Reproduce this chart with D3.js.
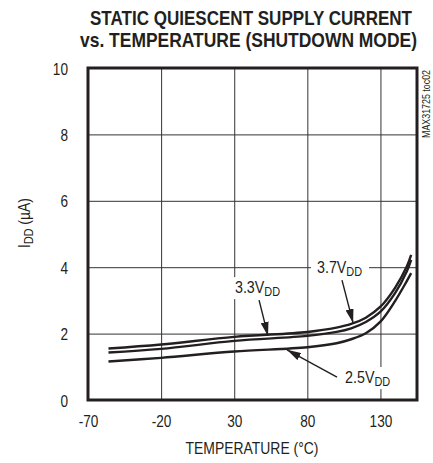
<!DOCTYPE html>
<html>
<head>
<meta charset="utf-8">
<script src="https://cdn.jsdelivr.net/npm/d3@7"></script>
<style>
  body { margin: 0; background: #fff; }
  text { font-family: "Liberation Sans", Arial, sans-serif; fill: #231f20; }
</style>
</head>
<body>
<div id="graphe"></div>
<script>
// donnees (temperature en °C, courant en µA)
var temperatures = [-56, -20, 30, 80, 100, 110, 120, 130, 140, 148, 151];
var courant37 = [1.55, 1.67, 1.90, 2.05, 2.18, 2.29, 2.48, 2.81, 3.38, 4.02, 4.37];
var courant33 = [1.43, 1.54, 1.78, 1.93, 2.05, 2.16, 2.35, 2.66, 3.22, 3.87, 4.22];
var courant25 = [1.16, 1.27, 1.46, 1.59, 1.71, 1.83, 2.01, 2.36, 2.98, 3.58, 3.82];

var ticksX = [-70, -20, 30, 80, 130];
var ticksY = [0, 2, 4, 6, 8, 10];

// etiquettes : position du texte et de la fleche en unites du graphe
var etiquettes = [
  { nom: "3.7", tx: 86.6, ty: 3.83, x1: 103.7, y1: 3.61, x2: 111.3, y2: 2.32 },
  { nom: "3.3", tx: 30.5, ty: 3.22, x1: 47, y1: 3.01, x2: 53.1, y2: 1.93 },
  { nom: "2.5", tx: 105.8, ty: 0.51, x1: 100.3, y1: 0.69, x2: 66.1, y2: 1.51 }
];

var largeur = 433, hauteur = 463;
var gauche = 88, droite = 417, haut = 68, bas = 400;

// resserre un texte (police etroite absente)
function resserre(sel, f) {
  sel.each(function () {
    var l = this.getComputedTextLength();
    d3.select(this).attr("textLength", l * f).attr("lengthAdjust", "spacingAndGlyphs");
  });
}

var svg = d3.select("#graphe").append("svg").attr("width", largeur).attr("height", hauteur);

var x = d3.scaleLinear().domain([-70, 155]).range([gauche, droite]);
var y = d3.scaleLinear().domain([0, 10]).range([bas, haut]);

// titre
svg.append("text").attr("x", 251).attr("y", 25).attr("text-anchor", "middle")
   .attr("textLength", 322).attr("lengthAdjust", "spacingAndGlyphs")
   .style("font-size", "21px").style("font-weight", "bold")
   .text("STATIC QUIESCENT SUPPLY CURRENT");
svg.append("text").attr("x", 248.5).attr("y", 47).attr("text-anchor", "middle")
   .attr("textLength", 337).attr("lengthAdjust", "spacingAndGlyphs")
   .style("font-size", "21px").style("font-weight", "bold")
   .text("vs. TEMPERATURE (SHUTDOWN MODE)");

// grille
var axeX = svg.append("g").attr("transform", "translate(0," + bas + ")")
   .call(d3.axisBottom(x).tickValues(ticksX).tickFormat(function (d) { return String(d); })
     .tickSize(-(bas - haut)).tickSizeOuter(0).tickPadding(12));
var axeY = svg.append("g").attr("transform", "translate(" + gauche + ",0)")
   .call(d3.axisLeft(y).tickValues(ticksY).tickSize(-(droite - gauche)).tickSizeOuter(0).tickPadding(20));
[axeX, axeY].forEach(function (a) {
  a.select(".domain").remove();
  a.selectAll(".tick line").style("stroke", "#333").style("stroke-width", 1);
  a.selectAll(".tick text").style("font-size", "17px").style("font-family", null).attr("fill", null);
  resserre(a.selectAll(".tick text"), 0.8);
});
axeX.selectAll(".tick text").attr("dy", "0.71em").attr("y", 15);
axeY.selectAll(".tick text").attr("dy", "0.36em");

// fonds blancs des etiquettes (cachent la grille)
etiquettes.forEach(function (e) {
  svg.append("rect").attr("x", x(e.tx) - 6).attr("y", y(e.ty) - 16)
     .attr("width", 58).attr("height", 22).style("fill", "#fff");
});

// courbes
var ligne = d3.line().x(function (d) { return x(d[0]); }).y(function (d) { return y(d[1]); })
   .curve(d3.curveCatmullRom.alpha(0.5));
[courant37, courant33, courant25].forEach(function (serie) {
  svg.append("path")
     .attr("d", ligne(temperatures.map(function (t, i) { return [t, serie[i]]; })))
     .style("fill", "none").style("stroke", "#231f20").style("stroke-width", 2.4);
});

// fleches
svg.append("defs").append("marker").attr("id", "pointe")
   .attr("viewBox", "0 0 14 8").attr("refX", 14).attr("refY", 4)
   .attr("markerWidth", 14).attr("markerHeight", 8).attr("markerUnits", "userSpaceOnUse")
   .attr("orient", "auto")
   .append("path").attr("d", "M0,0 L14,4 L0,8 Z").style("fill", "#231f20");

etiquettes.forEach(function (e) {
  svg.append("line").attr("x1", x(e.x1)).attr("y1", y(e.y1)).attr("x2", x(e.x2)).attr("y2", y(e.y2))
     .style("stroke", "#231f20").style("stroke-width", 1.4).attr("marker-end", "url(#pointe)");
  var t = svg.append("text").attr("x", x(e.tx)).attr("y", y(e.ty)).style("font-size", "17px");
  t.append("tspan").text(e.nom + "V");
  t.append("tspan").attr("dy", 3).style("font-size", "13px").text("DD");
  resserre(t, 0.84);
});

// cadre
svg.append("rect").attr("x", gauche).attr("y", haut).attr("width", droite - gauche).attr("height", bas - haut)
   .style("fill", "none").style("stroke", "#231f20").style("stroke-width", 3);

// titres des axes
svg.append("text").attr("x", 252).attr("y", 454).attr("text-anchor", "middle")
   .attr("textLength", 133).attr("lengthAdjust", "spacingAndGlyphs")
   .style("font-size", "17px").text("TEMPERATURE (°C)");

var ty = svg.append("text").attr("transform", "translate(30,223) rotate(-90)")
   .attr("text-anchor", "middle").style("font-size", "17px");
ty.append("tspan").text("I");
ty.append("tspan").attr("dy", 3).style("font-size", "13px").text("DD");
ty.append("tspan").attr("dy", -3).text(" (µA)");
resserre(ty, 0.82);

// reference
svg.append("text").attr("transform", "translate(430,138) rotate(-90)")
   .attr("textLength", 68).attr("lengthAdjust", "spacingAndGlyphs")
   .style("font-size", "10px").text("MAX31725 toc02");
</script>
</body>
</html>
